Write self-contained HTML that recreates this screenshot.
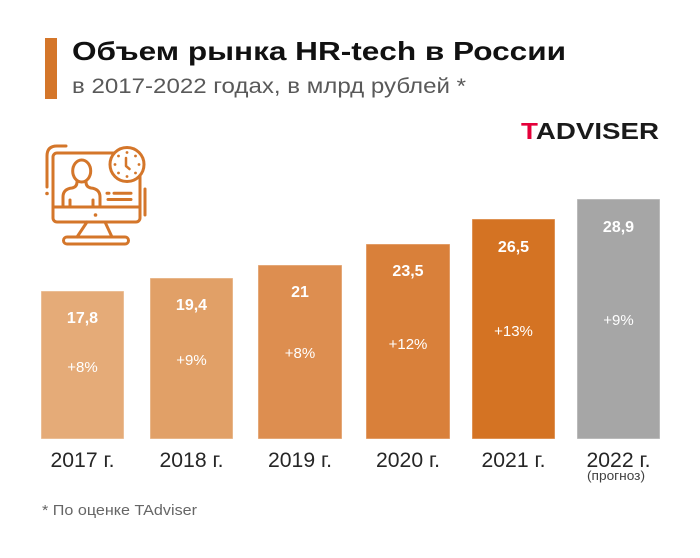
<!DOCTYPE html>
<html>
<head>
<meta charset="utf-8">
<style>
  html,body{margin:0;padding:0;background:#fff;}
  svg{display:block;}
  text{font-family:"Liberation Sans", Arial, sans-serif;}
</style>
</head>
<body>
<svg width="700" height="558" viewBox="0 0 700 558" xmlns="http://www.w3.org/2000/svg">
  <rect width="700" height="558" fill="#fff"/>

  <!-- Title block -->
  <rect x="45" y="38" width="12" height="61" fill="#d4762a"/>
  <text x="72" y="60" font-size="26" font-weight="bold" fill="#111" textLength="494" lengthAdjust="spacingAndGlyphs">Объем рынка HR-tech в России</text>
  <text x="72" y="93" font-size="21" fill="#595959" textLength="394" lengthAdjust="spacingAndGlyphs">в 2017-2022 годах, в млрд рублей *</text>

  <!-- Logo -->
  <text x="521" y="139" font-size="23" font-weight="bold" fill="#1a1a1a" textLength="138" lengthAdjust="spacingAndGlyphs"><tspan fill="#e4003a">T</tspan>ADVISER</text>

  <!-- Icon -->
  <g fill="none" stroke="#d4762a" stroke-width="3" stroke-linecap="round" stroke-linejoin="round">
    <path d="M66 146 L57 146 Q47 146 47 156 L47 187"/>
    <path d="M145 189 L145 215"/>
    <rect x="53" y="153" width="87" height="69" rx="4"/>
    <path d="M53 207 H140"/>
    <path d="M87 222 L77 237 M105 222 L112 237"/>
    <rect x="63.5" y="237" width="65" height="7" rx="3.5"/>
    <ellipse cx="81.7" cy="171" rx="9" ry="11"/>
    <path d="M63 207 V197 Q63 189 72 188 Q77 187 77 182 M86 182 Q86 187 91 188 Q100 189 100 197 V207"/>
    <path d="M70 200 V207 M93 200 V207"/>
    <path d="M107 193.3 H109 M114 193.3 H131 M108 199.5 H131"/>
    <circle cx="127" cy="164.5" r="17" fill="#fff"/>
    <path d="M126 158 V166 L129.5 169" stroke-width="2.5"/>
  </g>
  <g fill="#d4762a">
    <circle cx="47" cy="193.5" r="1.8"/>
    <circle cx="95.5" cy="215" r="1.8"/>
    <circle cx="127" cy="152.5" r="1.4"/>
    <circle cx="127" cy="176.5" r="1.4"/>
    <circle cx="115" cy="164.5" r="1.4"/>
    <circle cx="139" cy="164.5" r="1.4"/>
    <circle cx="118.5" cy="156" r="1.4"/>
    <circle cx="135.5" cy="156" r="1.4"/>
    <circle cx="118.5" cy="173" r="1.4"/>
    <circle cx="135.5" cy="173" r="1.4"/>
  </g>

  <!-- Bars -->
  <g stroke="#ffffff" stroke-opacity="0.45" stroke-width="1">
    <rect x="41" y="291" width="83" height="148" fill="#e5ab78"/>
    <rect x="150" y="278" width="83" height="161" fill="#e1a067"/>
    <rect x="258" y="265" width="84" height="174" fill="#dd8e50"/>
    <rect x="366" y="244" width="84" height="195" fill="#d9803a"/>
    <rect x="472" y="219" width="83" height="220" fill="#d47323"/>
    <rect x="577" y="199" width="83" height="240" fill="#a6a6a6"/>
  </g>

  <!-- Value labels -->
  <g font-size="16" font-weight="bold" fill="#fff" text-anchor="middle">
    <text x="82.5" y="323">17,8</text>
    <text x="191.5" y="310">19,4</text>
    <text x="300" y="297">21</text>
    <text x="408" y="276">23,5</text>
    <text x="513.5" y="252">26,5</text>
    <text x="618.5" y="232">28,9</text>
  </g>
  <g font-size="15" fill="#fff" text-anchor="middle">
    <text x="82.5" y="372">+8%</text>
    <text x="191.5" y="365">+9%</text>
    <text x="300" y="358">+8%</text>
    <text x="408" y="349">+12%</text>
    <text x="513.5" y="336">+13%</text>
    <text x="618.5" y="325">+9%</text>
  </g>

  <!-- Year labels -->
  <g font-size="21" fill="#262626" text-anchor="middle">
    <text x="82.5" y="467" textLength="64" lengthAdjust="spacingAndGlyphs">2017 г.</text>
    <text x="191.5" y="467" textLength="64" lengthAdjust="spacingAndGlyphs">2018 г.</text>
    <text x="300" y="467" textLength="64" lengthAdjust="spacingAndGlyphs">2019 г.</text>
    <text x="408" y="467" textLength="64" lengthAdjust="spacingAndGlyphs">2020 г.</text>
    <text x="513.5" y="467" textLength="64" lengthAdjust="spacingAndGlyphs">2021 г.</text>
    <text x="618.5" y="467" textLength="64" lengthAdjust="spacingAndGlyphs">2022 г.</text>
  </g>
  <text x="616" y="480" font-size="13" fill="#404040" text-anchor="middle" textLength="58" lengthAdjust="spacingAndGlyphs">(прогноз)</text>

  <!-- Footnote -->
  <text x="42" y="515" font-size="15" fill="#666" textLength="155" lengthAdjust="spacingAndGlyphs">* По оценке TAdviser</text>
</svg>
</body>
</html>
